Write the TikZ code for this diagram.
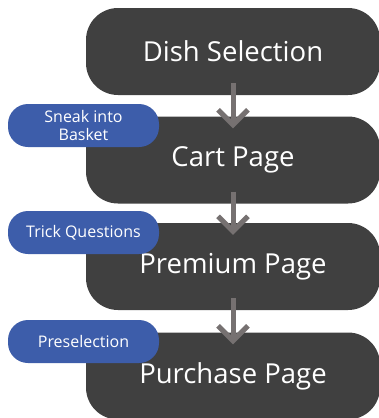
\documentclass[tikz,border=0pt]{standalone}
\usepackage{fontspec}
\setmainfont{Open Sans}
\usetikzlibrary{arrows.meta}
\definecolor{pagegray}{RGB}{64,64,64}
\definecolor{tagblue}{RGB}{61,93,170}
\definecolor{edgegray}{RGB}{118,113,113}
\begin{document}
\begin{tikzpicture}
    [
        x=1pt, y=-1pt,
        page/.style={fill=pagegray, text=white, rounded corners=32pt, minimum width=294pt, minimum height=87pt, inner sep=0pt, font=\fontsize{27.5}{32}\selectfont},
        tag/.style={fill=tagblue, text=white, rounded corners=20pt, minimum width=151pt, minimum height=43pt, inner sep=0pt, align=center, font=\fontsize{16}{18.5}\selectfont},
        edge/.style={-{Straight Barb[length=15pt, width=30pt]}, draw=edgegray, line width=5pt},
    ]
    \useasboundingbox (0,0) rectangle (379,418);

    % page flow
    \node (p1) at (233,51.5)  [page] {Dish Selection};
    \node (p2) at (233,160)   [page] {Cart Page};
    \node (p3) at (233,266.5) [page] {Premium Page};
    \node (p4) at (233,376)   [page] {Purchase Page};

    % dark patterns
    \node (t1) at (83.5,125.5) [tag] {Sneak into\\Basket};
    \node (t2) at (83.5,232.5) [tag] {Trick Questions};
    \node (t3) at (83.5,341.5) [tag] {Preselection};

    \draw [edge] ([yshift=12pt]p1.south) -- ([yshift=-12pt]p2.north);
    \draw [edge] ([yshift=12pt]p2.south) -- ([yshift=-12pt]p3.north);
    \draw [edge] ([yshift=12pt]p3.south) -- ([yshift=-12pt]p4.north);

\end{tikzpicture}
\end{document}
